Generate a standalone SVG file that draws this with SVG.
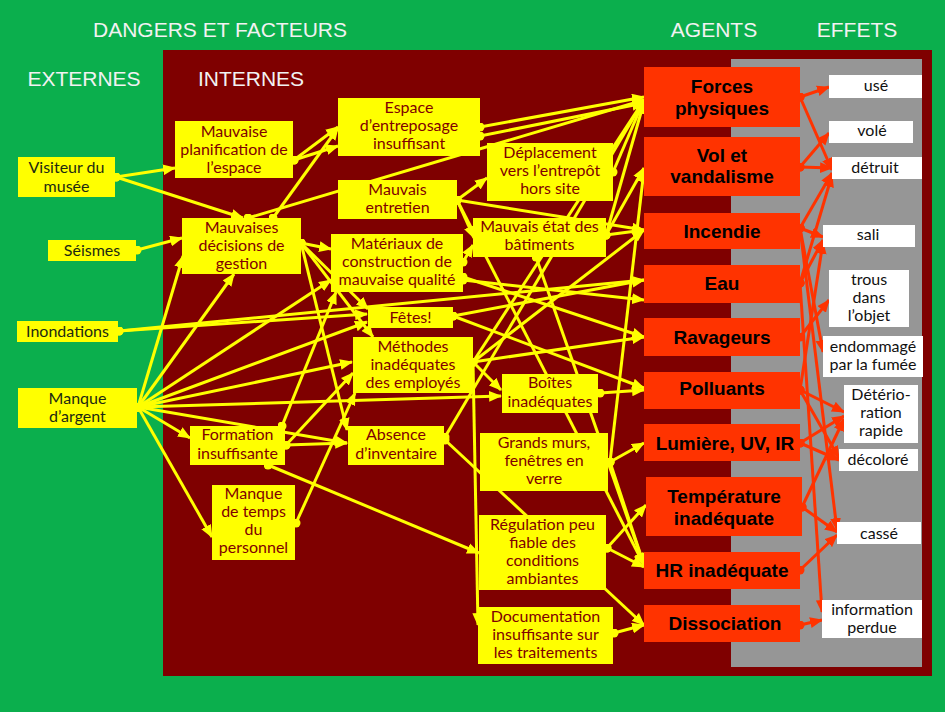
<svg xmlns="http://www.w3.org/2000/svg" width="945" height="712" viewBox="0 0 945 712">
<defs>
<marker id="ay" viewBox="0 0 12 10" refX="11" refY="5" markerWidth="13" markerHeight="11" markerUnits="userSpaceOnUse" orient="auto"><path d="M0,0 L12,5 L0,10 z" fill="#FFFF00"/></marker>
<marker id="dy" viewBox="0 0 10 10" refX="5" refY="5" markerWidth="9" markerHeight="9" markerUnits="userSpaceOnUse"><circle cx="5" cy="5" r="5" fill="#FFFF00"/></marker>
<marker id="ar" viewBox="0 0 12 10" refX="11" refY="5" markerWidth="13" markerHeight="11" markerUnits="userSpaceOnUse" orient="auto"><path d="M0,0 L12,5 L0,10 z" fill="#FF3300"/></marker>
<marker id="dr" viewBox="0 0 10 10" refX="5" refY="5" markerWidth="9" markerHeight="9" markerUnits="userSpaceOnUse"><circle cx="5" cy="5" r="5" fill="#FF3300"/></marker>
</defs>
<style>
.t{font-family:"Liberation Sans",Arial,sans-serif;font-size:21px;fill:#F2F2F2}
.yb{fill:#FFFF00}
.ex{font-family:Lato,"Liberation Sans",sans-serif;font-size:16px;fill:#1c2a12;text-anchor:middle}
.in{font-family:Lato,"Liberation Sans",sans-serif;font-size:16px;fill:#800000;text-anchor:middle}
.ag{fill:#FF3300}
.at{font-family:"Liberation Sans",Arial,sans-serif;font-size:19px;font-weight:bold;fill:#000;text-anchor:middle}
.ef{fill:#FFFFFF}
.et{font-family:Lato,"Liberation Sans",sans-serif;font-size:16px;fill:#111;text-anchor:middle}
.y{stroke:#FFFF00;stroke-width:3;fill:none;marker-start:url(#dy);marker-end:url(#ay)}
.r{stroke:#FF3300;stroke-width:3;fill:none;marker-start:url(#dr);marker-end:url(#ar)}
</style>
<rect x="0" y="0" width="945" height="712" fill="#0BAF4D"/>
<rect x="163" y="50" width="769" height="626" fill="#7F0000"/>
<rect x="731" y="59" width="191" height="608" fill="#969696"/>
<g id="titles">
<text class="t" x="220" y="37" text-anchor="middle">DANGERS ET FACTEURS</text>
<text class="t" x="84" y="86" text-anchor="middle">EXTERNES</text>
<text class="t" x="251" y="86" text-anchor="middle">INTERNES</text>
<text class="t" x="714" y="37" text-anchor="middle">AGENTS</text>
<text class="t" x="857" y="37" text-anchor="middle">EFFETS</text>
</g>
<g id="connectors">
<line class="y" x1="116" y1="177" x2="175" y2="168"/>
<line class="y" x1="116" y1="177" x2="243" y2="218"/>
<line class="y" x1="137" y1="250" x2="182" y2="238"/>
<line class="y" x1="119" y1="331" x2="367" y2="314"/>
<line class="y" x1="119" y1="331" x2="644" y2="280"/>
<line class="y" x1="138" y1="407" x2="183" y2="256"/>
<line class="y" x1="138" y1="407" x2="234" y2="274"/>
<line class="y" x1="138" y1="407" x2="331" y2="280"/>
<line class="y" x1="138" y1="407" x2="367" y2="322"/>
<line class="y" x1="138" y1="407" x2="352" y2="362"/>
<line class="y" x1="138" y1="407" x2="501" y2="396"/>
<line class="y" x1="138" y1="407" x2="190" y2="438"/>
<line class="y" x1="138" y1="407" x2="212" y2="537"/>
<line class="y" x1="138" y1="407" x2="347" y2="443"/>
<line class="y" x1="294" y1="160" x2="338" y2="127"/>
<line class="y" x1="294" y1="160" x2="338" y2="146"/>
<line class="y" x1="273" y1="218" x2="338" y2="128"/>
<line class="y" x1="248" y1="218" x2="644" y2="100"/>
<line class="y" x1="301" y1="243" x2="331" y2="249"/>
<line class="y" x1="301" y1="243" x2="368" y2="309"/>
<line class="y" x1="301" y1="243" x2="347" y2="430"/>
<line class="y" x1="301" y1="243" x2="373" y2="337"/>
<line class="y" x1="286" y1="445" x2="347" y2="443"/>
<line class="y" x1="286" y1="445" x2="353" y2="373"/>
<line class="y" x1="268" y1="465" x2="479" y2="553"/>
<line class="y" x1="282" y1="426" x2="336" y2="292"/>
<line class="y" x1="296" y1="523" x2="355" y2="393"/>
<line class="y" x1="480" y1="127" x2="644" y2="97"/>
<line class="y" x1="480" y1="136" x2="644" y2="103"/>
<line class="y" x1="457" y1="200" x2="487" y2="178"/>
<line class="y" x1="457" y1="200" x2="474" y2="238"/>
<line class="y" x1="457" y1="200" x2="644" y2="230"/>
<line class="y" x1="457" y1="200" x2="644" y2="565"/>
<line class="y" x1="463" y1="262" x2="473" y2="245"/>
<line class="y" x1="463" y1="280" x2="644" y2="300"/>
<line class="y" x1="463" y1="277" x2="644" y2="337"/>
<line class="y" x1="613" y1="172" x2="644" y2="100"/>
<line class="y" x1="606" y1="235" x2="644" y2="102"/>
<line class="y" x1="606" y1="235" x2="644" y2="168"/>
<line class="y" x1="606" y1="235" x2="644" y2="230"/>
<line class="y" x1="536" y1="257" x2="644" y2="565"/>
<line class="y" x1="453" y1="316" x2="644" y2="280"/>
<line class="y" x1="453" y1="316" x2="644" y2="388"/>
<line class="y" x1="473" y1="362" x2="501" y2="390"/>
<line class="y" x1="473" y1="362" x2="644" y2="100"/>
<line class="y" x1="473" y1="362" x2="644" y2="230"/>
<line class="y" x1="473" y1="362" x2="644" y2="337"/>
<line class="y" x1="473" y1="362" x2="478" y2="625"/>
<line class="y" x1="445" y1="437" x2="644" y2="100"/>
<line class="y" x1="445" y1="440" x2="644" y2="625"/>
<line class="y" x1="600" y1="393" x2="644" y2="390"/>
<line class="y" x1="610" y1="462" x2="644" y2="443"/>
<line class="y" x1="610" y1="462" x2="644" y2="565"/>
<line class="y" x1="610" y1="462" x2="644" y2="170"/>
<line class="y" x1="607" y1="548" x2="646" y2="505"/>
<line class="y" x1="607" y1="548" x2="644" y2="567"/>
<line class="y" x1="614" y1="633" x2="644" y2="625"/>
<line class="r" x1="800" y1="97" x2="829" y2="87"/>
<line class="r" x1="800" y1="97" x2="832" y2="170"/>
<line class="r" x1="800" y1="167" x2="829" y2="133"/>
<line class="r" x1="800" y1="167" x2="832" y2="168"/>
<line class="r" x1="800" y1="228" x2="832" y2="173"/>
<line class="r" x1="800" y1="228" x2="823" y2="237"/>
<line class="r" x1="800" y1="228" x2="823" y2="352"/>
<line class="r" x1="800" y1="228" x2="837" y2="530"/>
<line class="r" x1="800" y1="283" x2="832" y2="175"/>
<line class="r" x1="800" y1="283" x2="823" y2="240"/>
<line class="r" x1="800" y1="283" x2="822" y2="612"/>
<line class="r" x1="800" y1="337" x2="829" y2="300"/>
<line class="r" x1="800" y1="390" x2="823" y2="242"/>
<line class="r" x1="800" y1="390" x2="844" y2="412"/>
<line class="r" x1="800" y1="390" x2="839" y2="458"/>
<line class="r" x1="800" y1="443" x2="839" y2="460"/>
<line class="r" x1="800" y1="443" x2="844" y2="416"/>
<line class="r" x1="802" y1="507" x2="844" y2="419"/>
<line class="r" x1="802" y1="507" x2="837" y2="532"/>
<line class="r" x1="800" y1="570" x2="837" y2="535"/>
<line class="r" x1="800" y1="625" x2="822" y2="620"/>
</g>
<g id="n-visiteur"><rect class="yb" x="18" y="157" width="97" height="40"/><text class="ex" x="66.5" y="172.5">Visiteur du</text><text class="ex" x="66.5" y="191.5">musée</text></g>
<g id="n-seismes"><rect class="yb" x="48" y="240" width="88" height="21"/><text class="ex" x="92" y="256">Séismes</text></g>
<g id="n-inondations"><rect class="yb" x="17" y="321" width="101" height="21"/><text class="ex" x="67.5" y="337">Inondations</text></g>
<g id="n-manque"><rect class="yb" x="18" y="388" width="119" height="40"/><text class="ex" x="77.5" y="403.5">Manque</text><text class="ex" x="77.5" y="422">d’argent</text></g>
<g id="n-planif"><rect class="yb" x="175" y="121" width="118" height="57"/><text class="in" x="234" y="137">Mauvaise</text><text class="in" x="234" y="155">planification de</text><text class="in" x="234" y="173">l’espace</text></g>
<g id="n-decisions"><rect class="yb" x="182" y="218" width="119" height="56"/><text class="in" x="241.5" y="232.5">Mauvaises</text><text class="in" x="241.5" y="250.5">décisions de</text><text class="in" x="241.5" y="268.5">gestion</text></g>
<g id="n-formation"><rect class="yb" x="190" y="426" width="95" height="39"/><text class="in" x="237.5" y="440">Formation</text><text class="in" x="237.5" y="458.5">insuffisante</text></g>
<g id="n-temps"><rect class="yb" x="212" y="485" width="83" height="75"/><text class="in" x="253.5" y="499">Manque</text><text class="in" x="253.5" y="517">de temps</text><text class="in" x="253.5" y="535">du</text><text class="in" x="253.5" y="553">personnel</text></g>
<g id="n-espace"><rect class="yb" x="338" y="98" width="142" height="58"/><text class="in" x="409" y="113">Espace</text><text class="in" x="409" y="131">d’entreposage</text><text class="in" x="409" y="149">insuffisant</text></g>
<g id="n-entretien"><rect class="yb" x="338" y="180" width="119" height="39"/><text class="in" x="397.5" y="195">Mauvais</text><text class="in" x="397.5" y="213">entretien</text></g>
<g id="n-materiaux"><rect class="yb" x="331" y="234" width="132" height="58"/><text class="in" x="397" y="248.5">Matériaux de</text><text class="in" x="397" y="266.5">construction de</text><text class="in" x="397" y="284.5">mauvaise qualité</text></g>
<g id="n-deplacement"><rect class="yb" x="487" y="143" width="126" height="58"/><text class="in" x="550" y="158">Déplacement</text><text class="in" x="550" y="176">vers l’entrepôt</text><text class="in" x="550" y="194">hors site</text></g>
<g id="n-etat"><rect class="yb" x="473" y="218" width="133" height="39"/><text class="in" x="539.5" y="232">Mauvais état des</text><text class="in" x="539.5" y="250">bâtiments</text></g>
<g id="n-fetes"><rect class="yb" x="368" y="307" width="85" height="21"/><text class="in" x="410.5" y="322.5">Fêtes!</text></g>
<g id="n-methodes"><rect class="yb" x="353" y="337" width="120" height="56"/><text class="in" x="413" y="351.5">Méthodes</text><text class="in" x="413" y="369.5">inadéquates</text><text class="in" x="413" y="387.5">des employés</text></g>
<g id="n-absence"><rect class="yb" x="348" y="426" width="96" height="39"/><text class="in" x="396" y="440">Absence</text><text class="in" x="396" y="458.5">d’inventaire</text></g>
<g id="n-boites"><rect class="yb" x="502" y="374" width="96" height="39"/><text class="in" x="550" y="388">Boîtes</text><text class="in" x="550" y="406.5">inadéquates</text></g>
<g id="n-murs"><rect class="yb" x="480" y="433" width="128" height="58"/><text class="in" x="544" y="448">Grands murs,</text><text class="in" x="544" y="466">fenêtres en</text><text class="in" x="544" y="484">verre</text></g>
<g id="n-regulation"><rect class="yb" x="479" y="515" width="127" height="75"/><text class="in" x="542.5" y="530">Régulation peu</text><text class="in" x="542.5" y="548">fiable des</text><text class="in" x="542.5" y="566">conditions</text><text class="in" x="542.5" y="584">ambiantes</text></g>
<g id="n-documentation"><rect class="yb" x="478" y="607" width="135" height="57"/><text class="in" x="545.5" y="621.5">Documentation</text><text class="in" x="545.5" y="639.5">insuffisante sur</text><text class="in" x="545.5" y="657.5">les traitements</text></g>
<g id="a-forces"><rect class="ag" x="644" y="67" width="156" height="60"/><text class="at" x="722" y="92.7">Forces</text><text class="at" x="722" y="114.7">physiques</text></g>
<g id="a-vol"><rect class="ag" x="644" y="137" width="156" height="59"/><text class="at" x="722" y="161.7">Vol et</text><text class="at" x="722" y="182.7">vandalisme</text></g>
<g id="a-incendie"><rect class="ag" x="644" y="213" width="156" height="36"/><text class="at" x="722" y="237.7">Incendie</text></g>
<g id="a-eau"><rect class="ag" x="644" y="265" width="156" height="38"/><text class="at" x="722" y="289.7">Eau</text></g>
<g id="a-ravageurs"><rect class="ag" x="644" y="318" width="156" height="38"/><text class="at" x="722" y="343.7">Ravageurs</text></g>
<g id="a-polluants"><rect class="ag" x="644" y="372" width="156" height="37"/><text class="at" x="722" y="394.7">Polluants</text></g>
<g id="a-lumiere"><rect class="ag" x="644" y="424" width="156" height="37"/><text class="at" x="725" y="449.7">Lumière, UV, IR</text></g>
<g id="a-temperature"><rect class="ag" x="646" y="477" width="156" height="59"/><text class="at" x="724" y="502.7">Température</text><text class="at" x="724" y="524.7">inadéquate</text></g>
<g id="a-hr"><rect class="ag" x="644" y="552" width="156" height="37"/><text class="at" x="722" y="576.7">HR inadéquate</text></g>
<g id="a-dissociation"><rect class="ag" x="644" y="605" width="156" height="37"/><text class="at" x="725" y="629.7">Dissociation</text></g>
<g id="e-use"><rect class="ef" x="829" y="75" width="93" height="23"/><text class="et" x="876" y="91">usé</text></g>
<g id="e-vole"><rect class="ef" x="829" y="121" width="84" height="22"/><text class="et" x="872" y="136">volé</text></g>
<g id="e-detruit"><rect class="ef" x="832" y="157" width="90" height="22"/><text class="et" x="875" y="173">détruit</text></g>
<g id="e-sali"><rect class="ef" x="823" y="225" width="92" height="22"/><text class="et" x="868" y="240">sali</text></g>
<g id="e-trous"><rect class="ef" x="829" y="270" width="80" height="57"/><text class="et" x="869" y="284.5">trous</text><text class="et" x="869" y="302.5">dans</text><text class="et" x="869" y="320.5">l’objet</text></g>
<g id="e-fumee"><rect class="ef" x="823" y="336" width="100" height="41"/><text class="et" x="873" y="351.5">endommagé</text><text class="et" x="873" y="369.5">par la fumée</text></g>
<g id="e-deterio"><rect class="ef" x="844" y="385" width="74" height="58"/><text class="et" x="881" y="399.5">Détério-</text><text class="et" x="881" y="417.5">ration</text><text class="et" x="881" y="435.5">rapide</text></g>
<g id="e-decolore"><rect class="ef" x="839" y="449" width="79" height="22"/><text class="et" x="878" y="465">décoloré</text></g>
<g id="e-casse"><rect class="ef" x="837" y="522" width="84" height="22"/><text class="et" x="879" y="539">cassé</text></g>
<g id="e-info"><rect class="ef" x="822" y="600" width="100" height="38"/><text class="et" x="872" y="614.5">information</text><text class="et" x="872" y="632.5">perdue</text></g>
</svg>
